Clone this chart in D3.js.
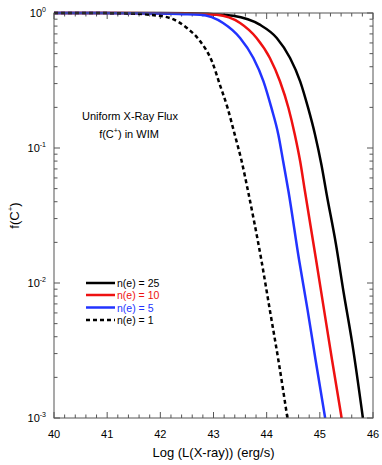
<!DOCTYPE html>
<html>
<head>
<meta charset="utf-8">
<script src="https://cdn.jsdelivr.net/npm/d3@7"></script>
<style>
  body { margin: 0; background: #fff; }
  text { font-family: "Liberation Sans", Arial, sans-serif; }
</style>
</head>
<body>
<div id="chart"></div>
<script>
// log L(X-ray) values and f(C+) for each electron density
const ne25X = [40, 42, 42.5, 43, 43.37, 43.87, 44.19, 44.44, 44.63, 44.78, 44.91, 45.03, 45.13, 45.30, 45.45, 45.61, 45.81]
const ne25Y = [1, 0.999, 0.995, 0.98, 0.955, 0.82, 0.653, 0.464, 0.312, 0.198, 0.1255, 0.0752, 0.0451, 0.0197, 0.00839, 0.00357, 0.001]

const ne10X = [40, 42, 42.5, 43.06, 43.5, 43.81, 44.06, 44.25, 44.41, 44.53, 44.63, 44.72, 44.93, 45.08, 45.23, 45.41]
const ne10Y = [1, 0.996, 0.99, 0.97, 0.843, 0.653, 0.464, 0.312, 0.198, 0.1255, 0.0797, 0.0478, 0.0148, 0.0063, 0.00269, 0.001]

const ne5X = [40, 41.5, 42, 42.4, 42.75, 43.18, 43.5, 43.75, 43.94, 44.09, 44.22, 44.31, 44.41, 44.61, 44.77, 44.92, 45.1]
const ne5Y = [1, 0.997, 0.99, 0.98, 0.97, 0.843, 0.653, 0.464, 0.312, 0.198, 0.1255, 0.0797, 0.0478, 0.0148, 0.0063, 0.00269, 0.001]

const ne1X = [40, 41, 41.5, 41.81, 42.18, 42.5, 42.75, 42.97, 43.12, 43.265, 43.4, 43.53, 43.65, 43.9, 44.06, 44.22, 44.39]
const ne1Y = [1, 0.998, 0.99, 0.97, 0.918, 0.774, 0.617, 0.439, 0.294, 0.198, 0.1255, 0.0797, 0.0478, 0.0148, 0.0063, 0.00269, 0.001]

const xTicks = [40, 41, 42, 43, 44, 45, 46]
const yTicks = [1, 0.1, 0.01, 0.001]
const yTickExp = ["0", "-1", "-2", "-3"]

const seriesNames = ["n(e) = 25", "n(e) = 10", "n(e) = 5", "n(e) = 1"]
const seriesColors = ["#000000", "#ee1111", "#2233ff", "#000000"]
const seriesDash = [null, null, null, "4,3"]

const width = 382, height = 465
const margin = {top: 13, right: 9, bottom: 47, left: 54}

const svg = d3.select("#chart").append("svg")
    .attr("width", width)
    .attr("height", height)

const x = d3.scaleLinear().domain([40, 46]).range([margin.left, width - margin.right])
const y = d3.scaleLog().domain([0.001, 1]).range([height - margin.bottom, margin.top])

const frameColor = "#555"

//minor ticks
const xMinor = d3.range(40, 46.001, 0.2).filter(v => Math.abs(v - Math.round(v)) > 0.01)
const yMinor = []
for (let e = -3; e < 0; e++) for (let k = 2; k <= 9; k++) yMinor.push(k * Math.pow(10, e))

const x0 = margin.left, x1 = width - margin.right
const y0 = height - margin.bottom, y1 = margin.top

const ticks = svg.append("g").attr("stroke", frameColor).attr("stroke-width", 1)
xTicks.forEach(v => {
    ticks.append("line").attr("x1", x(v)).attr("x2", x(v)).attr("y1", y0).attr("y2", y0 - 6)
    ticks.append("line").attr("x1", x(v)).attr("x2", x(v)).attr("y1", y1).attr("y2", y1 + 6)
})
xMinor.forEach(v => {
    ticks.append("line").attr("x1", x(v)).attr("x2", x(v)).attr("y1", y0).attr("y2", y0 - 3.5)
    ticks.append("line").attr("x1", x(v)).attr("x2", x(v)).attr("y1", y1).attr("y2", y1 + 3.5)
})
yTicks.forEach(v => {
    ticks.append("line").attr("x1", x0).attr("x2", x0 + 6).attr("y1", y(v)).attr("y2", y(v))
    ticks.append("line").attr("x1", x1).attr("x2", x1 - 6).attr("y1", y(v)).attr("y2", y(v))
})
yMinor.forEach(v => {
    ticks.append("line").attr("x1", x0).attr("x2", x0 + 3.5).attr("y1", y(v)).attr("y2", y(v))
    ticks.append("line").attr("x1", x1).attr("x2", x1 - 3.5).attr("y1", y(v)).attr("y2", y(v))
})

//tick labels
svg.append("g").selectAll("text").data(xTicks).join("text")
    .attr("x", d => x(d))
    .attr("y", y0 + 20)
    .attr("text-anchor", "middle")
    .attr("font-size", 11)
    .text(d => d)

const yl = svg.append("g").selectAll("text").data(yTicks).join("text")
    .attr("x", x0 - 8)
    .attr("y", d => y(d) + 4)
    .attr("text-anchor", "end")
    .attr("font-size", 11)
yl.append("tspan").text("10")
yl.append("tspan").attr("dy", -5).attr("font-size", 7).text((d, i) => yTickExp[i])

//curves
const allX = [ne25X, ne10X, ne5X, ne1X]
const allY = [ne25Y, ne10Y, ne5Y, ne1Y]
const line = d3.line().curve(d3.curveMonotoneX).x(d => x(d[0])).y(d => y(d[1]))

svg.append("clipPath").attr("id", "plotclip").append("rect")
    .attr("x", x0).attr("y", y1 - 2).attr("width", x1 - x0).attr("height", y0 - y1 + 2)

allX.forEach((xs, i) => {
    const pts = xs.map((v, j) => [v, allY[i][j]])
    svg.append("path")
        .datum(pts)
        .attr("fill", "none")
        .attr("stroke", seriesColors[i])
        .attr("stroke-width", 2.5)
        .attr("stroke-dasharray", seriesDash[i])
        .attr("clip-path", "url(#plotclip)")
        .attr("d", line)
})

//frame
svg.append("rect")
    .attr("x", x0).attr("y", y1)
    .attr("width", x1 - x0).attr("height", y0 - y1)
    .attr("fill", "none").attr("stroke", frameColor).attr("stroke-width", 1)

//annotation
svg.append("text").attr("x", 130).attr("y", 120).attr("text-anchor", "middle")
    .attr("font-size", 11).text("Uniform X-Ray Flux")
const ann = svg.append("text").attr("x", 129).attr("y", 138).attr("text-anchor", "middle")
    .attr("font-size", 11)
ann.append("tspan").text("f(C")
ann.append("tspan").attr("dy", -5).attr("font-size", 7).text("+")
ann.append("tspan").attr("dy", 5).text(") in WIM")

//legend
const legendY = [283, 295, 307.5, 320]
seriesNames.forEach((name, i) => {
    svg.append("line")
        .attr("x1", 86).attr("x2", 115)
        .attr("y1", legendY[i]).attr("y2", legendY[i])
        .attr("stroke", seriesColors[i])
        .attr("stroke-width", 2.5)
        .attr("stroke-dasharray", seriesDash[i])
    svg.append("text")
        .attr("x", 117).attr("y", legendY[i] + 4)
        .attr("font-size", 10.5)
        .attr("fill", seriesColors[i])
        .text(name)
})

//axis titles
svg.append("text")
    .attr("x", (x0 + x1) / 2).attr("y", 457)
    .attr("text-anchor", "middle")
    .attr("font-size", 13)
    .text("Log (L(X-ray)) (erg/s)")

const yt = svg.append("text")
    .attr("transform", `translate(19, ${(y0 + y1) / 2}) rotate(-90)`)
    .attr("text-anchor", "middle")
    .attr("font-size", 13)
yt.append("tspan").text("f(C")
yt.append("tspan").attr("dy", -6).attr("font-size", 8).text("+")
yt.append("tspan").attr("dy", 6).text(")")
</script>
</body>
</html>
